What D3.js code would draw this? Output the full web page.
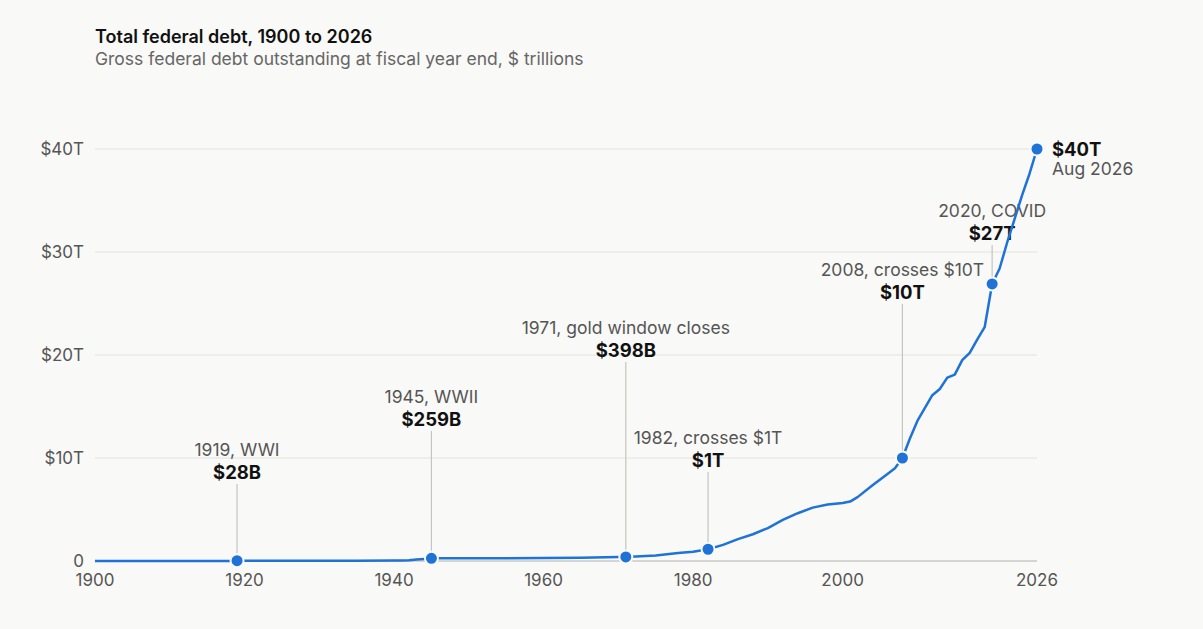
<!DOCTYPE html>
<html><head><meta charset="utf-8">
<script src="https://cdn.jsdelivr.net/npm/d3@7/dist/d3.min.js"></script>
<style>body{margin:0;background:#f9f9f7;font-family:Inter,"Noto Sans",sans-serif}</style>
</head><body><svg id="c" width="1203" height="629"></svg>
<script>
const years = [1900,1910,1916,1917,1918,1919,1920,1925,1930,1935,1940,1941,1942,1943,1944,1945,1946,1950,1955,1960,1965,1970,1971,1975,1978,1980,1982,1984,1986,1988,1990,1992,1994,1996,1998,2000,2001,2002,2004,2006,2007,2008,2009,2010,2012,2013,2014,2015,2016,2017,2018,2019,2020,2021,2022,2023,2024,2025,2026];
const debt = [0.0012,0.0012,0.0012,0.003,0.012,0.027,0.026,0.020,0.016,0.029,0.043,0.049,0.072,0.137,0.201,0.259,0.269,0.257,0.274,0.291,0.322,0.381,0.398,0.542,0.77,0.908,1.14,1.57,2.12,2.6,3.2,4.0,4.64,5.18,5.48,5.63,5.77,6.2,7.35,8.45,9.0,10.0,11.9,13.6,16.1,16.7,17.8,18.1,19.5,20.2,21.5,22.7,26.9,28.4,30.9,33.2,35.5,37.6,40.0];
const yTicks = [0,10,20,30,40];
const yTickLabels = ["0","$10T","$20T","$30T","$40T"];
const xTicks = [1900,1920,1940,1960,1980,2000,2026];
const annYears = [1919,1945,1971,1982,2008,2020];
const annValues = [0.027,0.259,0.398,1.14,10.0,26.9];
const annTitles = ["1919, WWI","1945, WWII","1971, gold window closes","1982, crosses $1T","2008, crosses $10T","2020, COVID"];
const annAmounts = ["$28B","$259B","$398B","$1T","$10T","$27T"];
const annTitleY = [456,403,334,444,276,217];

const svg = d3.select("#c");
const x = d3.scaleLinear().domain([1900,2026]).range([95,1037]);
const y = d3.scaleLinear().domain([0,40]).range([561,149]);
const blue = "#1f72d6";

svg.append("text").attr("x",95).attr("y",43).attr("font-size",18).attr("font-weight",600).attr("fill","#111").text("Total federal debt, 1900 to 2026");
svg.append("text").attr("x",95).attr("y",65).attr("font-size",17.5).attr("fill","#666").text("Gross federal debt outstanding at fiscal year end, $ trillions");

yTicks.forEach((t,i)=>{
  svg.append("line").attr("x1",95).attr("x2",1037).attr("y1",y(t)).attr("y2",y(t))
    .attr("stroke", t===0?"#c8c8c4":"#e2e2de").attr("stroke-width",t===0?1.5:1);
  svg.append("text").attr("x",84).attr("y",y(t)+6).attr("text-anchor","end").attr("font-size",17).attr("fill","#555").text(yTickLabels[i]);
});
xTicks.forEach(t=>{
  svg.append("text").attr("x",x(t)).attr("y",586).attr("text-anchor","middle").attr("font-size",17).attr("fill","#555").text(t);
});

annYears.forEach((yr,i)=>{
  svg.append("line").attr("x1",x(yr)).attr("x2",x(yr)).attr("y1",annTitleY[i]+28).attr("y2",y(annValues[i])-6)
    .attr("stroke","#c4c4c0").attr("stroke-width",1.2);
});
annYears.forEach((yr,i)=>{
  svg.append("text").attr("x",x(yr)).attr("y",annTitleY[i]).attr("text-anchor","middle").attr("font-size",17.5).attr("fill","#555").text(annTitles[i]);
  svg.append("text").attr("x",x(yr)).attr("y",annTitleY[i]+23).attr("text-anchor","middle").attr("font-size",18.5).attr("font-weight",700).attr("fill","#111").text(annAmounts[i]);
});

const line = d3.line().x((d,i)=>x(years[i])).y(d=>y(d));
svg.append("path").datum(debt).attr("d",line).attr("fill","none").attr("stroke",blue).attr("stroke-width",2.5).attr("stroke-linejoin","round");

annYears.concat([2026]).forEach((yr,i)=>{
  const v = i<annValues.length?annValues[i]:40;
  svg.append("circle").attr("cx",x(yr)).attr("cy",y(v)).attr("r",6.5).attr("fill",blue).attr("stroke","#f9f9f7").attr("stroke-width",2);
});
svg.append("text").attr("x",1052).attr("y",156).attr("font-size",18.5).attr("font-weight",700).attr("fill","#111").text("$40T");
svg.append("text").attr("x",1052).attr("y",175).attr("font-size",17.5).attr("fill","#555").text("Aug 2026");
</script></body></html>
